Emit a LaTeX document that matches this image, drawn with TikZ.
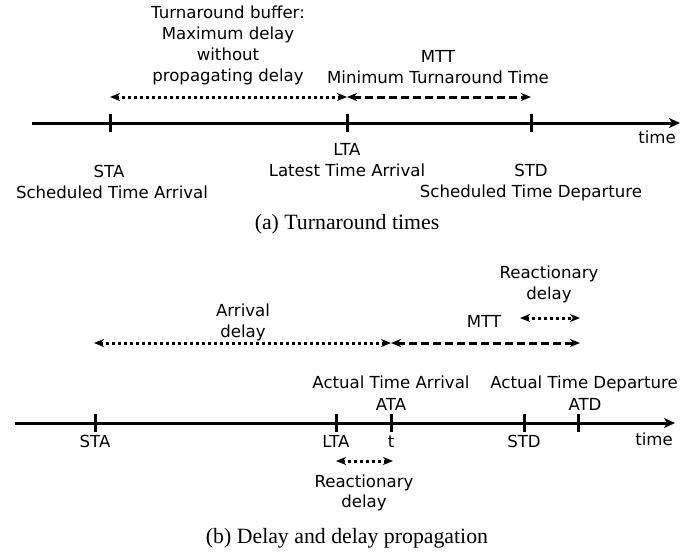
\documentclass[tikz,border=0pt]{standalone}
\usepackage{fontspec}
\setmainfont{Liberation Serif}
\setsansfont{DejaVu Sans}
\usetikzlibrary{arrows.meta}
\begin{document}
\begin{tikzpicture}[x=1pt,y=-1pt,
  lbl/.style={font=\sffamily\fontsize{16.6}{20}\selectfont, inner sep=0pt, anchor=base},
  captext/.style={font=\fontsize{21.8}{24}\selectfont, inner sep=0pt, anchor=base},
  axisline/.style={line width=3pt, -{Stealth[length=11pt,width=10pt,inset=3pt]}},
  tickmark/.style={line width=3pt},
  dotarrow/.style={line width=3pt, dash pattern=on 3pt off 3pt, {Stealth[length=10pt,width=8pt,inset=3pt]}-{Stealth[length=10pt,width=8pt,inset=3pt]}},
  dasharrow/.style={line width=3pt, dash pattern=on 8pt off 4pt, {Stealth[length=10pt,width=8pt,inset=3pt]}-{Stealth[length=10pt,width=8pt,inset=3pt]}}
]
\useasboundingbox (0,0) rectangle (684,555);

% ---------- (a) ----------
\coordinate (a1s) at (32,123);
\coordinate (a1e) at (680,123);
\coordinate (sta1) at (110,123);
\coordinate (lta1) at (347,123);
\coordinate (std1) at (531,123);
\coordinate (b1) at (110,97);
\coordinate (b2) at (347,97);
\coordinate (b3) at (531,97);

\draw[axisline] (a1s) -- (a1e);
\foreach \p in {sta1,lta1,std1} \draw[tickmark] ([yshift=-9pt]\p) -- ([yshift=9pt]\p);
\draw[dotarrow] (b1) -- (b2);
\draw[dasharrow] (b2) -- (b3);

\node[lbl] (tb1) at (228,18) {Turnaround buffer:};
\node[lbl] (tb2) at (228,39.5) {Maximum delay};
\node[lbl] (tb3) at (228,60) {without};
\node[lbl] (tb4) at (228,81) {propagating delay};
\node[lbl] (mtt1) at (438,62) {MTT};
\node[lbl] (mtt2) at (438,83) {Minimum Turnaround Time};
\node[lbl] (time1) at (657,143) {time};
\node[lbl] (lta1a) at (347,155) {LTA};
\node[lbl] (lta1b) at (347,176) {Latest Time Arrival};
\node[lbl] (sta1a) at (109,177) {STA};
\node[lbl] (sta1b) at (112,198) {Scheduled Time Arrival};
\node[lbl] (std1a) at (531,176) {STD};
\node[lbl] (std1b) at (531,197) {Scheduled Time Departure};
\node[captext] (capa) at (347,229) {(a) Turnaround times};

% ---------- (b) ----------
\coordinate (a2s) at (15,423);
\coordinate (a2e) at (675,423);
\coordinate (sta2) at (95,423);
\coordinate (lta2) at (336,423);
\coordinate (t2) at (391,423);
\coordinate (std2) at (524,423);
\coordinate (atd2) at (578,423);
\coordinate (c1) at (94,343);
\coordinate (c2) at (391,343);
\coordinate (c3) at (580,343);
\coordinate (r1) at (520,318);
\coordinate (r2) at (580,318);
\coordinate (s1) at (336,461);
\coordinate (s2) at (393,461);

\draw[axisline] (a2s) -- (a2e);
\foreach \p in {sta2,lta2,t2,std2,atd2} \draw[tickmark] ([yshift=-9pt]\p) -- ([yshift=9pt]\p);
\draw[dotarrow] (c1) -- (c2);
\draw[dasharrow] (c2) -- (c3);
\draw[dotarrow] (r1) -- (r2);
\draw[dotarrow] (s1) -- (s2);

\node[lbl] (rd1) at (549,278) {Reactionary};
\node[lbl] (rd2) at (549,299) {delay};
\node[lbl] (mtt3) at (484,327) {MTT};
\node[lbl] (ad1) at (243,316) {Arrival};
\node[lbl] (ad2) at (243,337) {delay};
\node[lbl] (ata1) at (391,388) {Actual Time Arrival};
\node[lbl] (ata2) at (391,410) {ATA};
\node[lbl] (atd1) at (584,388) {Actual Time Departure};
\node[lbl] (atd3) at (585,410) {ATD};
\node[lbl] (sta2a) at (95,447) {STA};
\node[lbl] (lta2a) at (336,447) {LTA};
\node[lbl] (t2a) at (391,447) {t};
\node[lbl] (std2a) at (524,447) {STD};
\node[lbl] (time2) at (654,445) {time};
\node[lbl] (rd3) at (364,487) {Reactionary};
\node[lbl] (rd4) at (364,507) {delay};
\node[captext] (capb) at (347,543) {(b) Delay and delay propagation};
\end{tikzpicture}
\end{document}
